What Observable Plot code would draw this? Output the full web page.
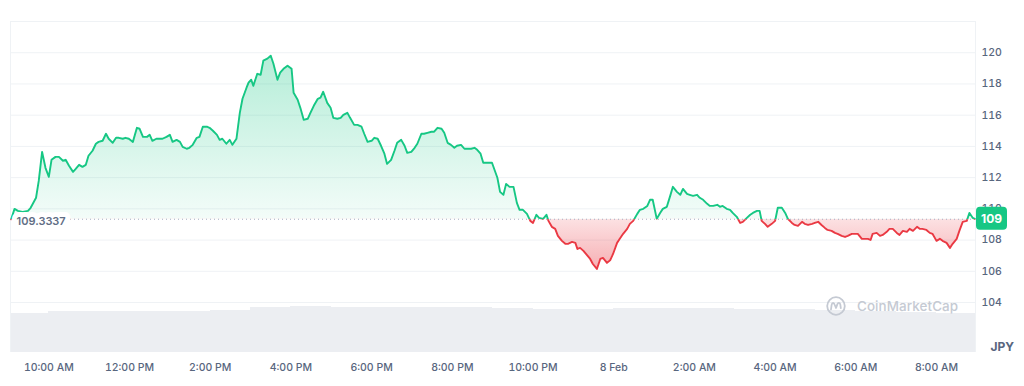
<!DOCTYPE html>
<html><head><meta charset="utf-8">
<script src="https://cdn.jsdelivr.net/npm/d3@7"></script>
<script src="https://cdn.jsdelivr.net/npm/@observablehq/plot@0.6"></script>
<style>
html,body{margin:0;padding:0;background:#fff;}
#wrap{position:relative;width:1024px;height:386px;overflow:hidden;font-family:Inter,"Noto Sans",sans-serif;}
#wrap svg{position:absolute;left:0;top:0;}
#wm{position:absolute;left:826px;top:296px;height:20px;display:flex;align-items:center;gap:11px;color:#c5cad3;font:500 13.4px Inter,"Noto Sans",sans-serif;letter-spacing:0.1px;}
#wm svg{position:static;}
</style></head><body><div id="wrap"></div>
<script>
// ---- data ----
const openPrice = 109.3337;
const startTime = "09:03", endTime = "08:58";
const times = [
"09:04","09:09","09:14","09:21","09:29","09:33","09:41","09:45","09:50","09:55",
"10:00","10:04","10:10","10:15","10:21","10:25","10:30","10:36","10:40","10:45",
"10:50","10:55","10:59","11:05","11:10","11:14","11:20","11:25","11:29","11:35",
"11:40","11:44","11:50","11:54","11:59","12:05","12:11","12:15","12:20","12:26",
"12:30","12:34","12:40","12:45","12:49","12:55","13:00","13:04","13:10","13:15",
"13:19","13:25","13:29","13:34","13:40","13:44","13:49","13:55","13:59","14:04",
"14:10","14:14","14:18","14:24","14:29","14:33","14:39","14:44","14:48","14:54",
"14:57","15:01","15:04","15:10","15:15","15:19","15:25","15:30","15:34","15:40",
"15:44","15:49","15:55","16:01","16:04","16:10","16:14","16:19","16:25","16:29",
"16:34","16:40","16:44","16:48","16:54","16:59","17:03","17:09","17:14","17:18",
"17:24","17:28","17:34","17:39","17:45","17:49","17:54","18:00","18:04","18:09",
"18:14","18:19","18:23","18:29","18:34","18:38","18:44","18:49","18:53","18:59",
"19:04","19:08","19:14","19:18","19:23","19:29","19:33","19:38","19:44","19:48",
"19:53","19:58","20:03","20:07","20:13","20:18","20:22","20:28","20:33","20:37",
"20:42","20:46","20:52","20:59","21:07","21:11","21:16","21:20","21:25","21:31",
"21:36","21:40","21:45","21:51","21:56","22:00","22:05","22:09","22:15","22:20",
"22:23","22:28","22:33","22:37","22:43","22:48","22:52","22:58","23:03","23:06",
"23:10","23:15","23:20","23:25","23:29","23:35","23:40","23:44","23:50","23:55",
"23:59","00:05","00:09","00:14","00:20","00:24","00:29","00:35","00:39","00:44",
"00:50","00:54","00:58","01:04","01:09","01:13","01:19","01:24","01:28","01:34",
"01:39","01:43","01:49","01:53","01:58","02:04","02:08","02:13","02:19","02:23",
"02:28","02:34","02:38","02:42","02:48","02:53","02:57","03:03","03:08","03:12",
"03:18","03:23","03:27","03:33","03:37","03:40","03:45","03:49","03:55","04:00",
"04:04","04:10","04:15","04:19","04:25","04:29","04:34","04:40","04:44","04:49",
"04:55","04:59","05:04","05:09","05:14","05:18","05:24","05:29","05:33","05:39",
"05:44","05:48","05:54","05:58","06:03","06:09","06:13","06:18","06:22","06:25",
"06:31","06:36","06:40","06:46","06:50","06:55","07:01","07:05","07:10","07:16",
"07:20","07:25","07:31","07:35","07:39","07:45","07:50","07:54","08:00","08:05",
"08:09","08:15","08:20","08:24","08:30","08:34","08:39","08:45","08:49","08:54",
"08:57"];
const prices = [
109.33,110.00,109.87,109.81,109.87,110.07,110.71,111.79,113.65,112.63,
112.05,113.14,113.33,113.33,113.08,113.14,112.76,112.37,112.56,112.82,
112.69,112.82,113.40,113.72,114.17,114.29,114.36,114.81,114.49,114.23,
114.55,114.55,114.49,114.55,114.49,114.29,115.19,115.13,114.61,114.61,
114.74,114.36,114.49,114.49,114.49,114.61,114.74,114.29,114.42,114.29,
113.97,113.85,113.91,114.10,114.55,114.61,115.26,115.26,115.19,115.00,
114.74,114.42,114.49,114.17,114.42,114.10,114.49,116.15,117.05,117.76,
118.08,118.27,117.88,118.65,118.59,119.49,119.62,119.81,119.29,118.27,
118.72,118.97,119.17,118.97,117.43,116.99,116.47,115.70,115.77,116.15,
116.60,117.05,117.12,117.50,116.79,116.47,115.83,115.77,115.83,116.02,
116.15,115.83,115.38,115.38,115.26,114.81,114.29,114.36,114.55,114.49,
114.04,113.53,112.88,113.14,113.72,114.23,114.42,114.04,113.59,113.65,
113.91,114.17,114.81,114.81,114.87,114.94,114.94,115.19,115.13,114.87,
114.23,114.10,113.91,114.04,114.10,113.85,113.85,113.85,113.91,113.78,
113.53,112.95,112.95,112.95,111.99,111.09,110.90,111.60,111.41,111.41,
110.38,109.94,109.94,109.68,109.23,109.10,109.62,109.42,109.36,109.62,
109.23,108.85,108.72,108.27,107.95,107.76,107.76,107.88,107.82,107.43,
107.50,107.31,107.05,106.79,106.47,106.15,106.79,106.86,106.54,106.73,
107.11,107.82,108.08,108.40,108.72,109.04,109.23,109.68,109.94,110.00,
110.19,110.58,110.58,109.36,109.74,110.00,110.13,110.83,111.41,111.09,
110.90,111.28,110.96,110.90,110.83,110.90,110.71,110.58,110.32,110.19,
110.19,110.26,110.13,110.19,110.00,109.94,109.74,109.49,109.10,109.17,
109.42,109.62,109.74,109.87,109.87,109.23,109.04,108.85,109.04,109.23,
110.07,110.07,109.74,109.36,109.10,108.97,108.91,109.17,109.04,108.97,
109.04,109.10,109.17,108.97,108.78,108.65,108.59,108.46,108.40,108.27,
108.20,108.27,108.40,108.40,108.40,108.08,108.08,108.08,108.01,108.40,
108.46,108.27,108.33,108.53,108.72,108.72,108.46,108.33,108.59,108.53,
108.72,108.59,108.85,108.72,108.72,108.65,108.46,108.40,107.95,108.08,
107.95,107.82,107.50,107.76,108.08,108.59,109.17,109.23,109.74,109.42,
109.36];
const volHours = ["09:00","10:00","11:00","12:00","13:00","14:00","15:00","16:00","17:00","18:00","19:00","20:00",
                  "21:00","22:00","23:00","00:00","01:00","02:00","03:00","04:00","05:00","06:00","07:00","08:00"];
const volumes  = [39.5,40.7,41.2,41.5,41.5,42.5,45.5,46.0,45.0,44.7,44.7,44.6,
                  44.0,43.0,43.2,43.7,43.7,43.7,43.5,42.8,42.0,41.2,40.2,39.3];
const tickTimes = ["10:00","12:00","14:00","16:00","18:00","20:00","22:00","00:00","02:00","04:00","06:00","08:00"];
const tickLabels = ["10:00 AM","12:00 PM","2:00 PM","4:00 PM","6:00 PM","8:00 PM","10:00 PM","8 Feb","2:00 AM","4:00 AM","6:00 AM","8:00 AM"];
const yTicks = [104,106,108,110,112,114,116,118,120];
const gridLevels = [104,106,108,110,112,114,116,118,120,122];
const currency = "JPY";
const brand = "CoinMarketCap";

// ---- build ----
const UP = "#16c784", DOWN = "#ea3943";
const parseT = s => { const [h,m] = s.split(":").map(Number); return new Date(Date.UTC(2024,1,h<9?8:7,h,m)); };
const xDomain = [parseT(startTime), parseT(endTime)];
const data = times.map((t,i)=>({t:parseT(t), p:prices[i]}));
const volData = volHours.map((h,i)=>({
  t1: new Date(Math.max(+parseT(h), +xDomain[0])),
  t2: i<volHours.length-1 ? parseT(volHours[i+1]) : xDomain[1],
  v: volumes[i]}));
const tickDates = tickTimes.map(parseT);
const labelMap = new Map(tickDates.map((d,i)=>[+d, tickLabels[i]]));
const W=1024, H=386, mL=10, mR=49, mT=21, mB=34;
const font = "Inter, 'Noto Sans', sans-serif";
const wrap = document.getElementById("wrap");

const volPlot = Plot.plot({
  width:W, height:H, marginLeft:mL, marginRight:mR, marginTop:302, marginBottom:mB,
  style:{background:"transparent"},
  x:{type:"utc", domain:xDomain, axis:null},
  y:{domain:[0,50], axis:null},
  marks:[Plot.rect(volData,{x1:"t1",x2:"t2",y1:0,y2:"v",fill:"#eceef2", shapeRendering:"crispEdges"})]
});
wrap.appendChild(volPlot);

const chart = Plot.plot({
  width:W, height:H, marginLeft:mL, marginRight:mR, marginTop:mT, marginBottom:mB,
  style:{background:"transparent", fontFamily:font, fontSize:"10.5px", color:"#58667e", fontWeight:500, overflow:"visible"},
  x:{type:"utc", domain:xDomain, ticks:tickDates, tickFormat:d=>labelMap.get(+d) ?? "", tickSize:0, tickPadding:11, label:null},
  y:{domain:[100.8,122], ticks:yTicks, tickSize:0, tickPadding:6, label:null, axis:"right", tickFormat:d=>String(d)},
  marks:[
    Plot.ruleY(gridLevels,{stroke:"#eff2f5", strokeWidth:1}),
    Plot.ruleX(xDomain,{stroke:"#eff2f5", strokeWidth:1}),
    Plot.areaY(data,{x:"t", y1:openPrice, y2:"p", fill:"url(#upFill)"}),
    Plot.areaY(data,{x:"t", y1:openPrice, y2:"p", fill:"url(#downFill)"}),
    Plot.ruleY([openPrice],{stroke:"#a6b0c3", strokeDasharray:"1 3", strokeWidth:1}),
    Plot.line(data,{x:"t", y:"p", stroke:UP, strokeWidth:1.9}),
    Plot.line(data,{x:"t", y:"p", stroke:DOWN, strokeWidth:1.9}),
    Plot.text([openPrice],{x:()=>xDomain[0], y:d=>d, text:d=>String(d), textAnchor:"start", dx:6, dy:2,
      fill:"#616e85", fontSize:11, fontWeight:600, stroke:"white", strokeWidth:10, strokeLinejoin:"round"}),
    Plot.text([currency],{frameAnchor:"bottom-right", textAnchor:"start", dx:15, dy:-2, fill:"#58667e", fontSize:12, fontWeight:700})
  ]
});
wrap.appendChild(chart);

// gradients, clip regions and price badge, positioned through the plot's own scales
const svg = d3.select(chart);
const ys = chart.scale("y"), xs = chart.scale("x");
const yBase = ys.apply(openPrice);
const defs = svg.insert("defs",":first-child");
const up = defs.append("linearGradient").attr("id","upFill").attr("gradientUnits","userSpaceOnUse")
  .attr("x1",0).attr("x2",0).attr("y1",ys.apply(d3.max(prices))).attr("y2",yBase);
up.append("stop").attr("offset",0).attr("stop-color",UP).attr("stop-opacity",0.32);
up.append("stop").attr("offset",1).attr("stop-color",UP).attr("stop-opacity",0.05);
const dn = defs.append("linearGradient").attr("id","downFill").attr("gradientUnits","userSpaceOnUse")
  .attr("x1",0).attr("x2",0).attr("y1",yBase).attr("y2",ys.apply(d3.min(prices)));
dn.append("stop").attr("offset",0).attr("stop-color",DOWN).attr("stop-opacity",0.15);
dn.append("stop").attr("offset",1).attr("stop-color",DOWN).attr("stop-opacity",0.4);
defs.append("clipPath").attr("id","clipUp").append("rect").attr("x",0).attr("y",0).attr("width",W).attr("height",yBase);
defs.append("clipPath").attr("id","clipDown").append("rect").attr("x",0).attr("y",yBase).attr("width",W).attr("height",H-yBase);
svg.selectAll('g[fill="url(#upFill)"]').attr("clip-path","url(#clipUp)");
svg.selectAll('g[fill="url(#downFill)"]').attr("clip-path","url(#clipDown)");
svg.selectAll('g[stroke="'+UP+'"]').attr("clip-path","url(#clipUp)");
svg.selectAll('g[stroke="'+DOWN+'"]').attr("clip-path","url(#clipDown)");

const last = prices[prices.length-1];
const bx = xs.apply(xDomain[1]) + 1, by = ys.apply(last);
const badge = svg.append("g");
badge.append("rect").attr("x",bx).attr("y",by-11.5).attr("width",31).attr("height",23).attr("rx",4).attr("fill",UP);
badge.append("text").attr("x",bx+15.5).attr("y",by).attr("dy","0.35em").attr("text-anchor","middle")
  .attr("fill","#fff").attr("font-size",12).attr("font-weight",700).attr("font-family",font).text(String(Math.round(last)));

// watermark
const wm = document.createElement("div");
wm.id = "wm";
wm.innerHTML = '<svg width="20" height="20" viewBox="0 0 20 20"><circle cx="10" cy="10" r="8.8" fill="none" stroke="#c5cad3" stroke-width="1.8"/>'
 + '<path d="M5 13.5 L5.6 9 C6 6.3 8 6.3 8.8 9 L10 12 L11.2 8.6 C12 6.3 14 6.3 14.4 9 L14.8 12.2" fill="none" stroke="#c5cad3" stroke-width="1.8" stroke-linecap="round" stroke-linejoin="round"/></svg>';
const span = document.createElement("span"); span.textContent = brand; wm.appendChild(span);
wrap.appendChild(wm);
</script></body></html>
